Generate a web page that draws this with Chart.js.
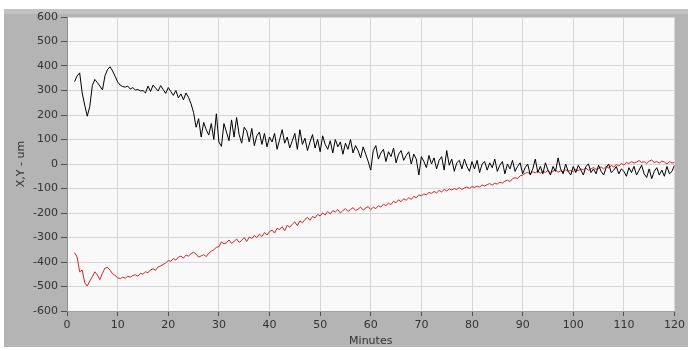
<!DOCTYPE html>
<html>
<head>
<meta charset="utf-8">
<script src="https://cdn.jsdelivr.net/npm/chart.js@4.4.0/dist/chart.umd.min.js"></script>
<style>
  html, body { margin: 0; padding: 0; background: #fff; }
  #wrap { position: relative; width: 688px; height: 351px; }
</style>
</head>
<body>
<div id="wrap"><canvas id="myChart" width="688" height="351"></canvas></div>
<script>
// --- Time base: samples every half minute, from 1.5 to 120 min ---
const sampleStart = 1.5;
const sampleStep = 0.5;

// --- X position (um), black trace ---
const xValues = [
  336, 360, 372, 290, 240, 195, 235, 320, 345, 332, 318, 302, 360, 385, 397, 380, 358, 335,
  322, 316, 314, 318, 306, 312, 302, 304, 298, 300, 290, 318, 296, 322, 310, 298, 320, 304, 288, 312,
  296, 280, 300, 270, 286, 262, 290, 272, 246, 210, 150, 185, 110, 170, 140, 118, 165, 100, 205, 90,
  72, 165, 130, 95, 180, 110, 190, 120, 85, 150, 135, 90, 145, 75, 115, 130, 80, 125, 70, 110,
  90, 125, 60, 100, 140, 85, 110, 65, 95, 125, 60, 140, 80, 105, 55, 90, 120, 65, 100, 50,
  115, 80, 60, 95, 45, 100, 70, 90, 40, 85, 60, 100, 45, 75, 55, 25, 70, 40, 10, -25,
  55, 75, 20, 45, 60, 10, 50, 30, 65, 5, 40, 55, 15, 35, 50, 0, 40, 20, -45, 30,
  10, -15, 35, 0, 25, -20, 15, 30, -25, 55, -5, 20, -30, 5, 15, -20, 20, -10, -30, 10,
  -20, 15, -35, 0, 10, -25, 5, -15, 20, -30, -5, 10, -40, 0, -20, 15, -30, -10, 5, -40,
  -15, 0, -45, -20, 20, -35, -10, -40, 5, -25, -45, -10, -30, 25, -20, -40, 0, -30, -45, -10,
  -35, -5, -25, -45, -10, 0, -35, -20, -40, -5, -30, -45, -15, 0, -35, -25, -10, -40, -20, -30,
  -50, -15, -35, -10, -45, -25, -5, -40, -55, -20, -60, -30, -15, -45, -25, -50, -10, -40, -30, -5
];

// --- Y position (um), red trace ---
const yValues = [
  -362, -380, -440, -433, -485, -498, -478, -460, -440, -453, -472, -446, -425, -422, -433, -448, -455, -464,
  -468, -462, -466, -458, -462, -455, -452, -458, -446, -450, -440, -444, -432, -428, -434, -420, -416, -410, -404, -394,
  -397, -386, -392, -380, -376, -384, -372, -376, -366, -360, -368, -380, -375, -370, -378, -364, -356, -350, -340, -338,
  -318, -326, -322, -310, -324, -316, -306, -320, -312, -300, -316, -298, -304, -292, -300, -286, -296, -280, -290, -276,
  -270, -282, -262, -268, -256, -272, -250, -258, -246, -236, -252, -232, -240, -226, -218, -230, -214, -220, -206, -212,
  -200, -208, -194, -204, -190, -196, -186, -200, -190, -182, -194, -186, -178, -190, -184, -176, -188, -180, -174, -186,
  -176, -182, -170, -176, -164, -170, -160, -166, -152, -158, -146, -154, -142, -148, -138, -144, -132, -138, -126, -130,
  -122, -126, -116, -120, -112, -118, -108, -114, -104, -110, -102, -106, -100, -104, -96, -104, -98, -94, -100, -92,
  -96, -90, -94, -86, -90, -84, -80, -86, -78, -82, -74, -78, -70, -66, -72, -60, -56, -60, -48, -46,
  -38, -34, -40, -32, -36, -28, -38, -30, -34, -26, -36, -30, -24, -34, -28, -32, -24, -30, -26, -32,
  -22, -28, -20, -24, -16, -26, -20, -14, -22, -18, -12, -20, -10, -16, -6, -12, -2, -8, 2, -4,
  6, 2, 10, 4, 8, 14, 6, 10, 2, 12, 16, 6, 10, 4, 12, 8, 0, 10, 4, 6
];

const xTickMin = 0, xTickMax = 120, xTickStep = 10;
const yTickMin = -600, yTickMax = 600, yTickStep = 100;

const toPoints = (vals) => vals.map((v, i) => ({ x: sampleStart + i * sampleStep, y: v }));

// --- Gray panel behind the plot, like the instrument window ---
const framePlugin = {
  id: 'frame',
  beforeDraw(chart) {
    const { ctx, chartArea } = chart;
    ctx.save();
    ctx.fillStyle = '#ffffff';
    ctx.fillRect(0, 0, chart.width, chart.height);
    ctx.fillStyle = '#b4b4b4';
    ctx.fillRect(4, 9, chart.width - 4, 338);
    ctx.fillStyle = '#c2c2c2';
    ctx.fillRect(4, 9, chart.width - 4, 5);
    ctx.fillStyle = '#f9f9f9';
    ctx.fillRect(chartArea.left, chartArea.top, chartArea.right - chartArea.left, chartArea.bottom - chartArea.top);
    ctx.restore();
  }
};

const tickFont = { family: 'DejaVu Sans', size: 11 };

const ctx = document.getElementById('myChart').getContext('2d');
const chart = new Chart(ctx, {
  type: 'line',
  data: {
    datasets: [
      {
        label: 'X',
        data: toPoints(xValues),
        borderColor: '#000000',
        borderWidth: 1,
        pointRadius: 0,
        tension: 0,
      },
      {
        label: 'Y',
        data: toPoints(yValues),
        borderColor: '#d82428',
        borderWidth: 1,
        pointRadius: 0,
        tension: 0,
      }
    ]
  },
  options: {
    responsive: false,
    animation: false,
    layout: { padding: { top: 17, right: 11, left: 0, bottom: 0 } },
    plugins: {
      legend: { display: false },
      tooltip: { enabled: false }
    },
    scales: {
      x: {
        type: 'linear',
        min: xTickMin,
        max: xTickMax,
        afterFit: (s) => { s.height = 40; },
        ticks: { stepSize: xTickStep, color: '#333333', font: tickFont, padding: 3, maxRotation: 0 },
        grid: { color: '#d6d6d6', tickColor: '#505050', tickLength: 5 },
        border: { color: '#a0a0a0' },
        title: { display: true, text: 'Minutes', color: '#333333', font: tickFont, padding: { top: 0, bottom: 3 } }
      },
      y: {
        min: yTickMin,
        max: yTickMax,
        afterFit: (s) => { s.width = 67; },
        ticks: { stepSize: yTickStep, color: '#333333', font: tickFont, padding: 3 },
        grid: { color: '#d6d6d6', tickColor: '#505050', tickLength: 6 },
        border: { color: '#909090' },
        title: { display: true, text: 'X,Y - um', color: '#333333', font: tickFont, padding: { top: 15, bottom: 0 } }
      }
    }
  },
  plugins: [framePlugin]
});
</script>
</body>
</html>
